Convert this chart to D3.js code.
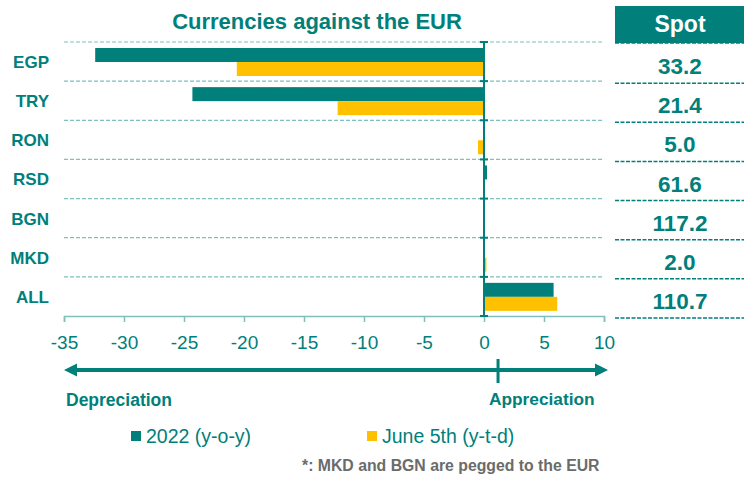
<!DOCTYPE html>
<html>
<head>
<meta charset="utf-8">
<style>
  body { margin: 0; background: #fff; }
  text { font-family: "Liberation Sans", Arial, sans-serif; }
</style>
</head>
<body>
<script src="https://d3js.org/d3.v7.min.js"></script>
<script>

    // data
    var categories = ["EGP", "TRY", "RON", "RSD", "BGN", "MKD", "ALL"];
    var yoy = [-32.4, -24.3, 0.0, 0.25, 0.0, 0.0, 5.8];      // 2022 (y-o-y)
    var ytd = [-20.6, -12.2, -0.5, 0.0, 0.0, 0.2, 6.1];      // June 5th (y-t-d)
    var spot = ["33.2", "21.4", "5.0", "61.6", "117.2", "2.0", "110.7"];
    var xTicks = [-35, -30, -25, -20, -15, -10, -5, 0, 5, 10];
    var seriesNames = ["2022 (y-o-y)", "June 5th (y-t-d)"];

    var teal = "#007f7b",
        yellow = "#ffc000",
        lightTeal = "#7fbfbc";

    var width = 744, height = 477;

    var svg = d3.select("body").append("svg")
        .attr("width", width)
        .attr("height", height);

    // scales
    var x = d3.scaleLinear().domain([-35, 10]).range([64, 604]);
    var y = d3.scaleBand().domain(categories).range([42, 316]).padding(0);
    var sub = d3.scaleBand().domain([0, 1]).range([6, 34]).padding(0);

    // title
    svg.append("text")
        .attr("x", 317).attr("y", 29)
        .attr("text-anchor", "middle")
        .attr("font-size", 22).attr("font-weight", "bold")
        .attr("fill", teal)
        .text("Currencies against the EUR");

    // dashed row separators
    var seps = categories.map(function(c) { return y(c); });
    svg.selectAll(".grid")
        .data(seps)
        .enter().append("line")
        .attr("class", "grid")
        .attr("x1", x(-35)).attr("x2", 602)
        .attr("y1", function(d) { return d; })
        .attr("y2", function(d) { return d; })
        .attr("stroke", lightTeal)
        .attr("stroke-width", 1.2)
        .attr("stroke-dasharray", "4,2");

    // bars
    var rows = svg.selectAll(".row")
        .data(categories)
        .enter().append("g")
        .attr("class", "row")
        .attr("transform", function(d) { return "translate(0," + y(d) + ")"; });

    rows.append("rect")
        .attr("x", function(d, i) { return x(Math.min(0, yoy[i])); })
        .attr("width", function(d, i) { return Math.abs(x(yoy[i]) - x(0)); })
        .attr("y", sub(0)).attr("height", sub.bandwidth())
        .attr("fill", teal);

    rows.append("rect")
        .attr("x", function(d, i) { return x(Math.min(0, ytd[i])); })
        .attr("width", function(d, i) { return Math.abs(x(ytd[i]) - x(0)); })
        .attr("y", sub(1)).attr("height", sub.bandwidth())
        .attr("fill", yellow);

    // category labels
    rows.append("text")
        .attr("x", 49).attr("y", 26)
        .attr("text-anchor", "end")
        .attr("font-size", 17).attr("font-weight", "bold")
        .attr("fill", teal)
        .text(function(d) { return d; });

    // bottom axis
    var xAxis = svg.append("g")
        .attr("transform", "translate(0,316)")
        .call(d3.axisBottom(x).tickValues(xTicks)
            .tickFormat(function(d) { return String(d); })
            .tickSize(6).tickPadding(14));
    xAxis.select(".domain").attr("stroke", lightTeal).attr("stroke-width", 1.5);
    xAxis.selectAll(".tick line").attr("stroke", lightTeal).attr("stroke-width", 1.5);
    xAxis.selectAll(".tick text")
        .attr("fill", teal)
        .attr("font-size", 19)
        .attr("font-family", "Liberation Sans, Arial, sans-serif");

    // zero line with small ticks
    svg.append("line")
        .attr("x1", x(0)).attr("x2", x(0))
        .attr("y1", 42).attr("y2", 316)
        .attr("stroke", teal).attr("stroke-width", 2);
    svg.selectAll(".zt")
        .data(seps.concat([316]))
        .enter().append("line")
        .attr("class", "zt")
        .attr("x1", x(0) - 4).attr("x2", x(0) + 4)
        .attr("y1", function(d) { return d; })
        .attr("y2", function(d) { return d; })
        .attr("stroke", teal).attr("stroke-width", 2);

    // depreciation / appreciation arrow
    var ay = 370;
    svg.append("line")
        .attr("x1", x(-35) + 8).attr("x2", x(10) - 4)
        .attr("y1", ay).attr("y2", ay)
        .attr("stroke", teal).attr("stroke-width", 4);
    svg.append("path")
        .attr("d", "M" + x(-35) + "," + ay + "l13,-6.5v13z")
        .attr("fill", teal);
    svg.append("path")
        .attr("d", "M" + (x(10) + 4) + "," + ay + "l-13,-6.5v13z")
        .attr("fill", teal);
    svg.append("line")
        .attr("x1", x(1.17)).attr("x2", x(1.17))
        .attr("y1", 359).attr("y2", 383)
        .attr("stroke", teal).attr("stroke-width", 3);

    svg.append("text")
        .attr("x", 66).attr("y", 406)
        .attr("font-size", 17.5).attr("font-weight", "bold")
        .attr("fill", teal)
        .text("Depreciation");
    svg.append("text")
        .attr("x", 489).attr("y", 405)
        .attr("font-size", 17.3).attr("font-weight", "bold")
        .attr("fill", teal)
        .text("Appreciation");

    // legend
    var legend = svg.selectAll(".legend")
        .data(seriesNames)
        .enter().append("g")
        .attr("class", "legend")
        .attr("transform", function(d, i) { return "translate(" + [131, 367][i] + ",431)"; });
    legend.append("rect")
        .attr("width", 10).attr("height", 10)
        .attr("fill", function(d, i) { return i === 0 ? teal : yellow; });
    legend.append("text")
        .attr("x", 15).attr("y", 12)
        .attr("font-size", 19.5)
        .attr("fill", teal)
        .text(function(d) { return d; });

    // footnote
    svg.append("text")
        .attr("x", 302).attr("y", 471)
        .attr("font-size", 15.8).attr("font-weight", "bold")
        .attr("fill", "#6b6b6b")
        .text("*: MKD and BGN are pegged to the EUR");

    // spot table
    svg.append("rect")
        .attr("x", 615).attr("y", 6)
        .attr("width", 129).attr("height", 37)
        .attr("fill", teal);
    svg.append("text")
        .attr("x", 680).attr("y", 32)
        .attr("text-anchor", "middle")
        .attr("font-size", 23).attr("font-weight", "bold")
        .attr("fill", "#fff")
        .text("Spot");

    var tableSeps = [43].concat(categories.map(function(c) { return y(c) + y.bandwidth() + 2; }));
    svg.selectAll(".tsep")
        .data(tableSeps)
        .enter().append("line")
        .attr("class", "tsep")
        .attr("x1", 615).attr("x2", 744)
        .attr("y1", function(d) { return d; })
        .attr("y2", function(d) { return d; })
        .attr("stroke", teal).attr("stroke-width", 1.5)
        .attr("stroke-dasharray", "4,1.5");

    svg.selectAll(".spot")
        .data(spot)
        .enter().append("text")
        .attr("class", "spot")
        .attr("x", 680)
        .attr("y", function(d, i) { return y(categories[i]) + y.bandwidth() + 2 - 9; })
        .attr("text-anchor", "middle")
        .attr("font-size", 22.5).attr("font-weight", "bold")
        .attr("fill", teal)
        .text(function(d) { return d; });

</script>
</body>
</html>
